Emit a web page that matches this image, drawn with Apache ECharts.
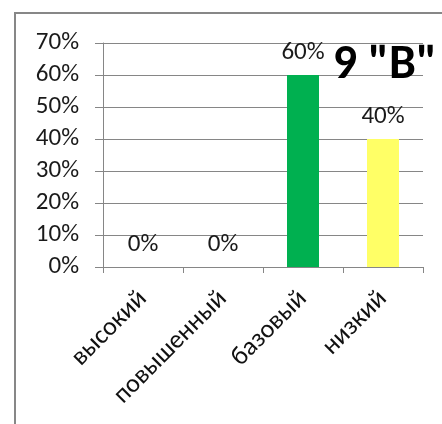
<!DOCTYPE html>
<html>
<head>
<meta charset="utf-8">
<script src="https://cdn.jsdelivr.net/npm/echarts@6/dist/echarts.min.js"></script>
<style>
html,body{margin:0;padding:0;background:#fff;}
#chart{width:442px;height:424px;}
</style>
</head>
<body>
<div id="chart"></div>
<script>
// уровни и доли
var levels = ['высокий', 'повышенный', 'базовый', 'низкий']
var shares = [0, 0, 60, 40]
var barColors = ['#00B050', '#00B050', '#00B050', '#FFFF66']
var yTicks = [0, 10, 20, 30, 40, 50, 60, 70]

var chart = echarts.init(document.getElementById('chart'))
var font = 'Carlito, "Open Sans", "Noto Sans", sans-serif'

var option = {
    animation: false,
    title: {
        text: '9 "В"',
        right: 0,
        top: 37,
        textStyle: {fontSize: 48, fontWeight: 'bold', color: '#000', fontFamily: font}
    },
    graphic: [{
        type: 'rect',
        shape: {x: 15, y: 13, width: 460, height: 440},
        style: {fill: 'none', stroke: '#878787', lineWidth: 2},
        silent: true
    }],
    grid: {left: 103, top: 43, width: 320, height: 224, containLabel: false},
    xAxis: {
        type: 'category',
        data: levels,
        axisLine: {lineStyle: {color: '#868686', width: 1}},
        axisTick: {show: true, length: 6, lineStyle: {color: '#868686'}},
        axisLabel: {
            rotate: 45,
            interval: 0,
            margin: 28,
            fontSize: 26,
            color: '#111',
            fontFamily: font
        }
    },
    yAxis: {
        type: 'value',
        min: yTicks[0],
        max: yTicks[yTicks.length - 1],
        interval: 10,
        axisLine: {show: true, lineStyle: {color: '#868686'}},
        axisTick: {show: true, length: 8, lineStyle: {color: '#868686'}},
        splitLine: {lineStyle: {color: '#868686', width: 1}},
        axisLabel: {
            formatter: '{value}%',
            fontSize: 25,
            color: '#1a1a1a',
            margin: 24,
            fontFamily: font
        }
    },
    series: [{
        type: 'bar',
        data: shares.map(function (v, i) {
            return {value: v, itemStyle: {color: barColors[i]}}
        }),
        barWidth: 32,
        label: {
            show: true,
            position: 'top',
            distance: 10,
            formatter: '{c}%',
            fontSize: 25,
            color: '#1a1a1a',
            fontFamily: font
        }
    }]
}
chart.setOption(option)
</script>
</body>
</html>
